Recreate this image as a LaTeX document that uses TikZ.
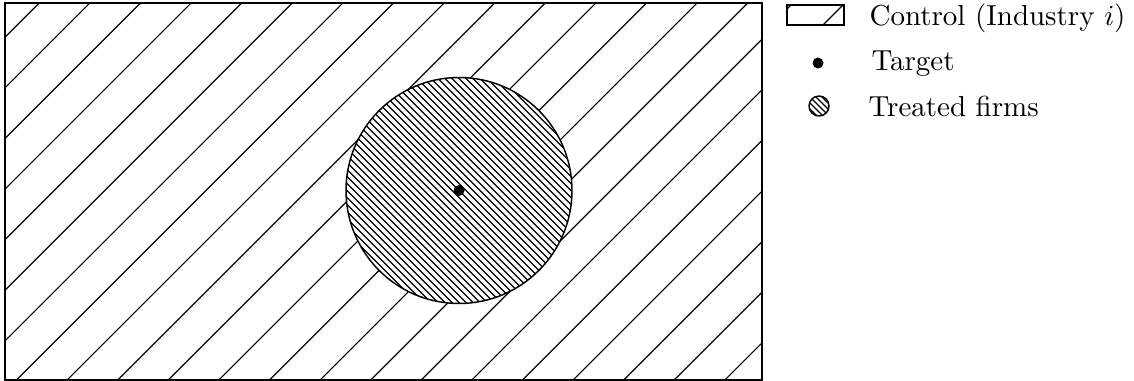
\documentclass[tikz,border=0pt]{standalone}
\begin{document}
\begin{tikzpicture}[x=0.345pt,y=-0.345pt,
  hatch/.style={line width=0.4pt},
  border/.style={line width=0.5pt},
  legtext/.style={anchor=base west, inner sep=0pt}]
\useasboundingbox (0,0) rectangle (1134,381);
% control area
\begin{scope}
  \clip (5,3) rectangle (762,380);
  \foreach \k in {0,...,22}{
    \pgfmathsetmacro\c{42.3+50.6*\k}
    \draw[hatch] (\c+100,-100) -- (\c-500,500);
  }
\end{scope}
\draw[border] (5,3) rectangle (762,380);
% treated circle
\fill[white] (459,190.5) circle (113);
\begin{scope}
  \clip (459,190.5) circle (113);
  \foreach \k in {-24,...,24}{
    \pgfmathsetmacro\c{268.5+7*\k}
    \draw[hatch] (\c+60,60) -- (\c+330,330);
  }
\end{scope}
\draw[border] (459,190.5) circle (113);
\fill (459,190.5) circle (5.5);
% legend
\begin{scope}
  \clip (787,5) rectangle (844,25);
  \foreach \k in {0,1}{
    \pgfmathsetmacro\c{796+52*\k}
    \draw[hatch] (\c+10,-10) -- (\c-40,40);
  }
\end{scope}
\draw[border] (787,5) rectangle (844,25);
\node[legtext] (ctl) at (869,26) {Control (Industry $i$)};
\fill (818,63) circle (5.5);
\node[legtext] (tgt) at (871,71) {Target};
\begin{scope}
  \clip (819,106) circle (10);
  \foreach \k in {-2,...,2}{
    \pgfmathsetmacro\c{713+6*\k}
    \draw[hatch] (\c+90,90) -- (\c+125,125);
  }
\end{scope}
\draw[border] (819,106) circle (10);
\node[legtext] (trt) at (868,117) {Treated firms};
\end{tikzpicture}
\end{document}
